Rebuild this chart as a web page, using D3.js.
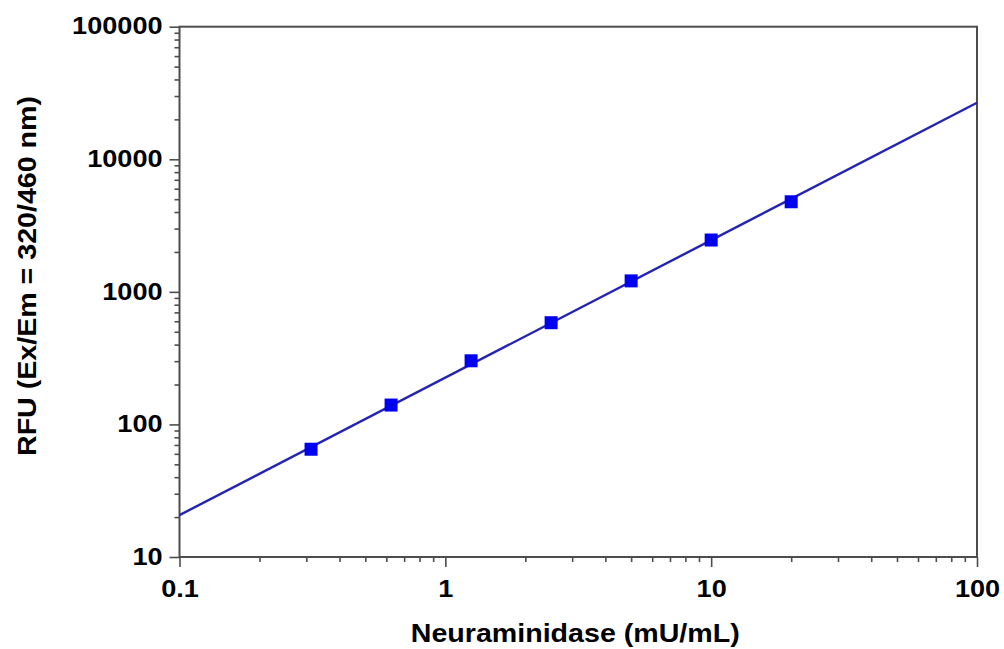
<!DOCTYPE html>
<html>
<head>
<meta charset="utf-8">
<script src="https://cdn.jsdelivr.net/npm/d3@7"></script>
<style>
  body { margin: 0; background: #fff; }
  svg { display: block; font-family: "Liberation Sans", Arial, sans-serif; font-weight: bold; }
</style>
</head>
<body>
<svg id="chart" width="1004" height="649"></svg>
<script>
// measured points
var concentrations = [0.3125, 0.625, 1.25, 2.5, 5, 10, 20],
    rfuValues = [65, 140, 302, 585, 1210, 2460, 4780];

// fitted line, end points
var fitX = [0.1, 100],
    fitY = [20.7, 26700];

var xTicks = [0.1, 1, 10, 100],
    yTicks = [10, 100, 1000, 10000, 100000];

var xTitle = 'Neuraminidase (mU/mL)',
    yTitle = 'RFU (Ex/Em = 320/460 nm)';

var plotLeft = 179.5, plotRight = 977, plotTop = 26.7, plotBottom = 557,
    axisColor = '#4d4d4d',
    stretch = 1.13;

var svg = d3.select('#chart');

var x = d3.scaleLog().domain([0.1, 100]).range([plotLeft, plotRight]),
    y = d3.scaleLog().domain([10, 100000]).range([plotBottom, plotTop]);

function minorTicks( scale ) {
  return scale.ticks().filter( function(d) {
    return xTicks.concat(yTicks).indexOf(d) < 0;
  } );
}

// minor ticks
svg.append('g')
  .attr('transform', 'translate(0,' + plotBottom + ')')
  .call( d3.axisBottom(x).tickValues(minorTicks(x)).tickSize(5).tickFormat('') );
svg.append('g')
  .attr('transform', 'translate(' + plotLeft + ',0)')
  .call( d3.axisLeft(y).tickValues(minorTicks(y)).tickSize(5).tickFormat('') );

// major ticks with labels
var xAxis = svg.append('g')
  .attr('class', 'major')
  .attr('transform', 'translate(0,' + plotBottom + ')')
  .call( d3.axisBottom(x).tickValues(xTicks).tickSize(10).tickPadding(13).tickFormat(String) );
var yAxis = svg.append('g')
  .attr('class', 'major')
  .attr('transform', 'translate(' + plotLeft + ',0)')
  .call( d3.axisLeft(y).tickValues(yTicks).tickSize(10).tickPadding(5).tickFormat(String) );

svg.selectAll('.domain').remove();
svg.selectAll('.tick line').attr('stroke', axisColor).attr('stroke-width', 1.6);
svg.selectAll('.major text')
  .attr('fill', '#000')
  .style('font-size', '24px')
  .attr('transform', 'scale(' + stretch + ',1)');
yAxis.selectAll('text').attr('dy', '0.3em');

// frame
svg.append('rect')
  .attr('x', plotLeft).attr('y', plotTop)
  .attr('width', plotRight - plotLeft).attr('height', plotBottom - plotTop)
  .attr('fill', 'none').attr('stroke', axisColor).attr('stroke-width', 2);

// fitted line
svg.append('path')
  .datum( d3.zip(fitX, fitY) )
  .attr('fill', 'none')
  .attr('stroke', '#2323b4')
  .attr('stroke-width', 2.4)
  .attr('d', d3.line().x(function(d) { return x(d[0]); }).y(function(d) { return y(d[1]); }) );

// markers
var size = 13;
svg.selectAll('rect.point')
  .data( d3.zip(concentrations, rfuValues) )
  .enter().append('rect')
    .attr('class', 'point')
    .attr('x', function(d) { return x(d[0]) - size / 2; })
    .attr('y', function(d) { return y(d[1]) - size / 2; })
    .attr('width', size).attr('height', size)
    .attr('fill', '#0000f0');

// axis titles
svg.append('text')
  .attr('transform', 'translate(' + ((plotLeft + plotRight) / 2 - 3) + ',642) scale(1.1,1)')
  .attr('text-anchor', 'middle')
  .style('font-size', '26px')
  .attr('fill', '#000')
  .text(xTitle);

svg.append('text')
  .attr('transform', 'translate(36,276) rotate(-90) scale(1.1,1)')
  .attr('text-anchor', 'middle')
  .style('font-size', '26px')
  .attr('fill', '#000')
  .text(yTitle);
</script>
</body>
</html>
